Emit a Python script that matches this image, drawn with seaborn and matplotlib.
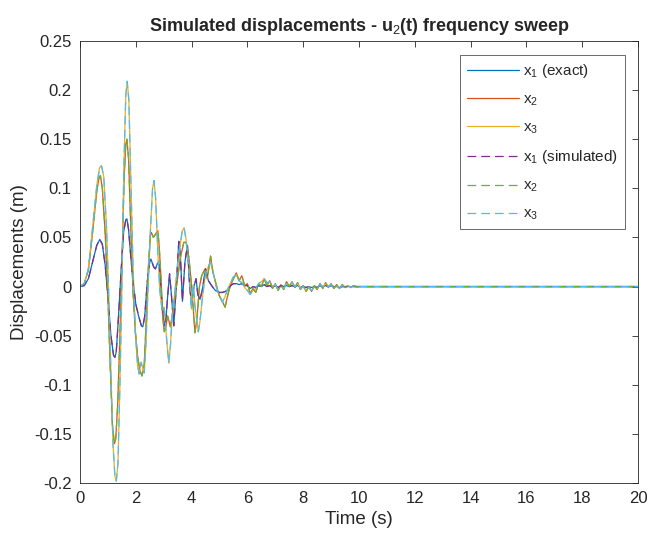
import numpy as np
import pandas as pd
import seaborn as sns
import matplotlib.pyplot as plt

# values (time in s, displacement in m)
t1_head = [0.0, 0.15, 0.3, 0.45, 0.6, 0.71, 0.8, 0.9, 1.0, 1.1, 1.2, 1.25, 1.3, 1.38,
           1.47, 1.56, 1.64, 1.68, 1.74, 1.82, 1.9, 2.0, 2.1, 2.2, 2.25, 2.32, 2.41,
           2.5, 2.54, 2.64, 2.7, 2.78, 2.84, 2.92, 3.0, 3.06, 3.14, 3.21, 3.28, 3.36,
           3.45, 3.54, 3.6, 3.67, 3.76, 3.85, 3.93, 4.0, 4.08, 4.16, 4.22, 4.3, 4.38,
           4.5, 4.6, 4.74, 4.85, 5.0]
x1_head = [0.0, 0.001, 0.008, 0.025, 0.042, 0.048, 0.043, 0.022, -0.010, -0.048, -0.070,
           -0.072, -0.066, -0.030, 0.015, 0.055, 0.068, 0.069, 0.058, 0.030, 0.005,
           -0.018, -0.030, -0.040, -0.041, -0.030, 0.005, 0.026, 0.028, 0.020, 0.018,
           0.024, 0.022, -0.010, -0.035, -0.041, -0.010, 0.013, -0.010, -0.040, 0.000,
           0.046, 0.030, -0.015, 0.025, 0.042, 0.000, -0.019, 0.000, 0.008, -0.008,
           -0.013, -0.004, 0.018, 0.006, 0.000, -0.004, -0.006]

t2_head = [0.0, 0.15, 0.3, 0.45, 0.6, 0.68, 0.73, 0.8, 0.9, 1.0, 1.08, 1.16, 1.23, 1.28,
           1.35, 1.43, 1.5, 1.58, 1.64, 1.68, 1.74, 1.82, 1.9, 1.98, 2.06, 2.14, 2.22,
           2.3, 2.38, 2.45, 2.52, 2.56, 2.63, 2.7, 2.79, 2.84, 2.9, 2.96, 3.02, 3.08,
           3.14, 3.24, 3.36, 3.48, 3.6, 3.72, 3.8, 3.9, 4.02, 4.12, 4.2, 4.28, 4.36,
           4.48, 4.56, 4.68, 4.76, 4.88, 5.0]
x2_head = [0.0, 0.003, 0.017, 0.055, 0.097, 0.111, 0.113, 0.100, 0.055, -0.010, -0.080,
           -0.140, -0.160, -0.155, -0.120, -0.050, 0.020, 0.110, 0.145, 0.150, 0.130,
           0.060, -0.005, -0.045, -0.070, -0.085, -0.091, -0.080, -0.030, 0.020, 0.052,
           0.055, 0.050, 0.053, 0.057, 0.040, 0.010, -0.030, -0.046, -0.040, -0.030,
           -0.041, -0.019, 0.005, 0.030, 0.045, 0.045, 0.030, -0.006, -0.047, -0.030,
           0.000, 0.011, 0.018, 0.008, 0.031, 0.015, 0.002, -0.010]

t3_head = [0.0, 0.15, 0.3, 0.45, 0.6, 0.7, 0.77, 0.85, 0.95, 1.02, 1.1, 1.18, 1.25, 1.3,
           1.36, 1.43, 1.5, 1.57, 1.64, 1.69, 1.75, 1.82, 1.9, 1.98, 2.06, 2.12, 2.19,
           2.25, 2.3, 2.36, 2.44, 2.52, 2.6, 2.65, 2.71, 2.78, 2.86, 2.94, 3.02, 3.1,
           3.18, 3.24, 3.3, 3.42, 3.54, 3.66, 3.73, 3.8, 3.9, 3.99, 4.06, 4.12, 4.24,
           4.3, 4.38, 4.48, 4.56, 4.68, 4.8, 4.9, 5.0]
x3_head = [0.0, 0.003, 0.018, 0.060, 0.103, 0.121, 0.123, 0.112, 0.060, 0.000, -0.080,
           -0.160, -0.193, -0.198, -0.180, -0.100, 0.000, 0.120, 0.195, 0.209, 0.190,
           0.110, 0.020, -0.045, -0.080, -0.089, -0.077, -0.083, -0.088, -0.060, 0.000,
           0.055, 0.100, 0.108, 0.090, 0.040, -0.004, -0.024, -0.021, -0.052, -0.078,
           -0.060, -0.031, 0.000, 0.033, 0.056, 0.060, 0.048, 0.022, -0.023, 0.002,
           -0.020, -0.046, -0.035, -0.013, 0.010, 0.018, 0.025, 0.011, -0.002, -0.009]

t_tail = [5.1, 5.2, 5.3, 5.4, 5.5, 5.6, 5.7, 5.8, 5.9, 6.0, 6.1, 6.2, 6.3, 6.4, 6.5,
          6.6, 6.7, 6.8, 6.9, 7.0, 7.1, 7.2, 7.3, 7.4, 7.5, 7.6, 7.7, 7.8, 7.9, 8.0,
          8.1, 8.2, 8.3, 8.4, 8.5, 8.6, 8.7, 8.8, 8.9, 9.0, 9.1, 9.2, 9.3, 9.4, 9.5,
          9.6, 9.7, 9.8, 9.9, 10.0, 20.0]
x1_tail = [-0.006, -0.005, -0.003, 0.001, 0.003, 0.003, 0.002, 0.003, 0.001, 0.001,
           -0.002, 0.000, -0.001, 0.001, 0.000, 0.002, 0.000, 0.001, -0.001, 0.001,
           -0.001, 0.001, 0.000, 0.001, 0.000, 0.001, 0.000, 0.001, -0.001, 0.000,
           -0.001, 0.000, -0.001, 0.000, -0.001, 0.001, 0.000, 0.001, 0.000, 0.001,
           0.000, 0.000, -0.001, 0.000, 0.000, 0.000, 0.000, 0.000, 0.000, 0.000, 0.000]
x2_tail = [-0.015, -0.021, -0.008, 0.002, 0.008, 0.014, 0.006, 0.011, 0.001, 0.003,
           -0.007, -0.002, -0.006, 0.003, 0.000, 0.008, 0.001, 0.006, -0.002, 0.003,
           -0.004, 0.002, -0.003, 0.005, 0.000, 0.005, -0.001, 0.004, -0.003, 0.001,
           -0.005, 0.000, -0.005, 0.001, -0.003, 0.003, -0.002, 0.004, -0.001, 0.003,
           -0.002, 0.002, -0.002, 0.002, -0.001, 0.001, -0.001, 0.001, 0.000, 0.000, 0.000]
x3_tail = [-0.016, -0.010, -0.002, 0.004, 0.010, 0.012, 0.006, 0.004, -0.001, -0.004,
           -0.008, -0.004, -0.002, 0.003, 0.005, 0.008, 0.004, 0.005, 0.000, 0.002,
           -0.003, 0.000, -0.002, 0.003, 0.001, 0.004, 0.000, 0.003, -0.002, 0.000,
           -0.004, -0.001, -0.004, 0.000, -0.002, 0.002, 0.000, 0.003, 0.000, 0.002,
           -0.001, 0.001, -0.002, 0.001, -0.001, 0.001, -0.001, 0.001, -0.001, 0.000, 0.000]

y_ticks = [-0.2, -0.15, -0.1, -0.05, 0, 0.05, 0.1, 0.15, 0.2, 0.25]
y_ticklabels = ['-0.2', '-0.15', '-0.1', '-0.05', '0', '0.05', '0.1', '0.15', '0.2', '0.25']
x_ticks = [0, 2, 4, 6, 8, 10, 12, 14, 16, 18, 20]

sns.set_style('white')
plt.rcParams['font.family'] = ['Liberation Sans', 'DejaVu Sans']
plt.rcParams['axes.unicode_minus'] = False
plt.rcParams['mathtext.fontset'] = 'custom'
plt.rcParams['mathtext.rm'] = 'Liberation Sans'
plt.rcParams['mathtext.it'] = 'Liberation Sans'
plt.rcParams['mathtext.bf'] = 'Liberation Sans:bold'

fig = plt.figure(figsize=(6.48, 5.38), dpi=100)
ax = fig.add_axes([0.1235, 0.1022, 0.8611, 0.8216])

series = [
    (t1_head + t_tail, x1_head + x1_tail),
    (t2_head + t_tail, x2_head + x2_tail),
    (t3_head + t_tail, x3_head + x3_tail),
]
exact_cols = ['#0072BD', '#D95319', '#EDB120']
sim_cols = ['#7E2F8E', '#77AC30', '#4DBEEE']
exact_lab = ['x$_1$ (exact)', 'x$_2$', 'x$_3$']
sim_lab = ['x$_1$ (simulated)', 'x$_2$', 'x$_3$']

for (t, x), c, lab in zip(series, exact_cols, exact_lab):
    df = pd.DataFrame({'t': t, 'x': x})
    sns.lineplot(data=df, x='t', y='x', color=c, linewidth=0.9, label=lab, ax=ax,
                 estimator=None, sort=False)
for (t, x), c, lab in zip(series, sim_cols, sim_lab):
    df = pd.DataFrame({'t': t, 'x': x})
    sns.lineplot(data=df, x='t', y='x', color=c, linewidth=0.9, linestyle=(0, (7, 4)),
                 label=lab, ax=ax, estimator=None, sort=False)

ax.set_xlim(0, 20)
ax.set_ylim(-0.2, 0.25)
ax.set_xticks(x_ticks)
ax.set_yticks(y_ticks)
ax.set_yticklabels(y_ticklabels)
ax.tick_params(direction='in', length=4, width=0.6, colors='#262626', labelsize=12,
               top=True, right=True, labelcolor='#262626', pad=6)
for s in ax.spines.values():
    s.set_color('#262626')
    s.set_linewidth(0.6)

ax.set_xlabel('Time (s)', fontsize=13.5, color='#262626', labelpad=3)
ax.set_ylabel('Displacements (m)', fontsize=13.5, color='#262626', labelpad=4)
ax.set_title('Simulated displacements - u$_2$(t) frequency sweep', fontsize=13,
             fontweight='bold', pad=7)

leg = ax.legend(loc='upper right', bbox_to_anchor=(0.977, 0.968), borderaxespad=0,
                fontsize=11, frameon=True, fancybox=False, edgecolor='#262626',
                handlelength=3.4, labelspacing=0.82, borderpad=0.45, handletextpad=0.3)
leg.get_frame().set_linewidth(0.6)

fig.savefig('out.png', dpi=100)
